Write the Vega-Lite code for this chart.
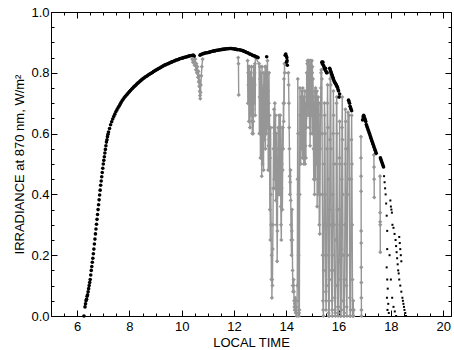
{
"$schema": "https://vega.github.io/schema/vega-lite/v6.json",
"width": 400, "height": 304,
"autosize": {"type": "none"},
"padding": {"left": 51, "top": 12, "right": 3, "bottom": 34},
"background": "white",
"config": {
  "view": {"stroke": "black", "strokeWidth": 1},
  "axis": {"grid": false, "domain": false, "tickColor": "black", "tickWidth": 1, "labelFont": "Liberation Sans", "labelFontSize": 13, "labelColor": "black", "titleFont": "Liberation Sans", "titleFontSize": 13, "titleFontWeight": "normal", "titleColor": "black"}
},
"datasets": {
"clear": [
{"t":6.26,"v":0.0},{"t":6.30,"v":0.03},{"t":6.32,"v":0.04},{"t":6.34,"v":0.05},{"t":6.36,"v":0.055},{"t":6.38,"v":0.065},{"t":6.40,"v":0.07},{"t":6.42,"v":0.08},{"t":6.44,"v":0.09},{"t":6.46,"v":0.10},{"t":6.48,"v":0.11},{"t":6.50,"v":0.12},{"t":6.52,"v":0.135},{"t":6.54,"v":0.15},{"t":6.56,"v":0.163},{"t":6.58,"v":0.177},{"t":6.60,"v":0.19},{"t":6.62,"v":0.205},{"t":6.64,"v":0.22},{"t":6.66,"v":0.237},{"t":6.68,"v":0.253},{"t":6.70,"v":0.27},{"t":6.72,"v":0.286},{"t":6.74,"v":0.302},{"t":6.76,"v":0.318},{"t":6.78,"v":0.334},{"t":6.80,"v":0.35},{"t":6.82,"v":0.366},{"t":6.84,"v":0.382},{"t":6.86,"v":0.398},{"t":6.88,"v":0.414},{"t":6.90,"v":0.43},{"t":6.92,"v":0.444},{"t":6.94,"v":0.458},{"t":6.96,"v":0.472},{"t":6.98,"v":0.486},{"t":7.00,"v":0.50},{"t":7.02,"v":0.512},{"t":7.04,"v":0.524},{"t":7.06,"v":0.536},{"t":7.08,"v":0.548},{"t":7.10,"v":0.56},{"t":7.12,"v":0.572},{"t":7.14,"v":0.58},{"t":7.16,"v":0.59},{"t":7.18,"v":0.598},{"t":7.20,"v":0.605},
{"t":7.24,"v":0.617},{"t":7.28,"v":0.629},{"t":7.32,"v":0.639},{"t":7.36,"v":0.648},{"t":7.40,"v":0.656},{"t":7.44,"v":0.664},{"t":7.48,"v":0.672},{"t":7.52,"v":0.678},{"t":7.56,"v":0.684},{"t":7.60,"v":0.690},{"t":7.64,"v":0.696},{"t":7.68,"v":0.702},{"t":7.72,"v":0.708},{"t":7.76,"v":0.713},{"t":7.80,"v":0.718},{"t":7.84,"v":0.722},{"t":7.88,"v":0.726},{"t":7.92,"v":0.730},{"t":7.96,"v":0.734},{"t":8.00,"v":0.738},{"t":8.04,"v":0.742},{"t":8.08,"v":0.746},{"t":8.12,"v":0.749},{"t":8.16,"v":0.753},{"t":8.20,"v":0.756},{"t":8.24,"v":0.759},{"t":8.28,"v":0.763},{"t":8.32,"v":0.766},{"t":8.36,"v":0.769},{"t":8.40,"v":0.772},{"t":8.44,"v":0.775},{"t":8.48,"v":0.778},{"t":8.52,"v":0.781},{"t":8.56,"v":0.783},{"t":8.60,"v":0.786},{"t":8.64,"v":0.788},{"t":8.68,"v":0.790},{"t":8.72,"v":0.793},{"t":8.76,"v":0.795},{"t":8.80,"v":0.797},{"t":8.84,"v":0.799},{"t":8.88,"v":0.801},{"t":8.92,"v":0.804},{"t":8.96,"v":0.806},{"t":9.00,"v":0.808},{"t":9.04,"v":0.810},{"t":9.08,"v":0.812},{"t":9.12,"v":0.814},{"t":9.16,"v":0.816},{"t":9.20,"v":0.818},{"t":9.24,"v":0.820},{"t":9.28,"v":0.822},{"t":9.32,"v":0.824},{"t":9.36,"v":0.826},{"t":9.40,"v":0.827},{"t":9.44,"v":0.829},{"t":9.48,"v":0.830},{"t":9.52,"v":0.832},{"t":9.56,"v":0.833},{"t":9.60,"v":0.835},{"t":9.64,"v":0.836},{"t":9.68,"v":0.838},{"t":9.72,"v":0.839},{"t":9.76,"v":0.841},{"t":9.80,"v":0.842},{"t":9.84,"v":0.843},{"t":9.88,"v":0.844},{"t":9.92,"v":0.846},{"t":9.96,"v":0.847},{"t":10.00,"v":0.848},{"t":10.04,"v":0.849},{"t":10.08,"v":0.850},{"t":10.12,"v":0.851},{"t":10.16,"v":0.852},{"t":10.20,"v":0.853},{"t":10.24,"v":0.854},{"t":10.28,"v":0.855},{"t":10.32,"v":0.856},{"t":10.36,"v":0.857},{"t":10.40,"v":0.857},{"t":10.44,"v":0.858},{"t":10.48,"v":0.855},
{"t":10.70,"v":0.858},{"t":10.74,"v":0.860},{"t":10.78,"v":0.862},{"t":10.82,"v":0.863},{"t":10.86,"v":0.864},{"t":10.90,"v":0.865},{"t":10.94,"v":0.866},{"t":10.98,"v":0.866},{"t":11.02,"v":0.867},{"t":11.06,"v":0.868},{"t":11.10,"v":0.869},{"t":11.14,"v":0.870},{"t":11.18,"v":0.871},{"t":11.22,"v":0.872},{"t":11.26,"v":0.872},{"t":11.30,"v":0.873},{"t":11.34,"v":0.874},{"t":11.38,"v":0.874},{"t":11.42,"v":0.875},{"t":11.46,"v":0.876},{"t":11.50,"v":0.876},{"t":11.54,"v":0.877},{"t":11.58,"v":0.877},{"t":11.62,"v":0.878},{"t":11.66,"v":0.878},{"t":11.70,"v":0.879},{"t":11.74,"v":0.879},{"t":11.78,"v":0.879},{"t":11.82,"v":0.880},{"t":11.86,"v":0.880},{"t":11.90,"v":0.880},{"t":11.94,"v":0.879},{"t":11.98,"v":0.879},{"t":12.02,"v":0.878},{"t":12.06,"v":0.878},{"t":12.10,"v":0.877},{"t":12.14,"v":0.876},{"t":12.20,"v":0.876},{"t":12.24,"v":0.875},{"t":12.28,"v":0.874},{"t":12.32,"v":0.873},{"t":12.36,"v":0.872},{"t":12.40,"v":0.870},{"t":12.44,"v":0.869},{"t":12.48,"v":0.867},{"t":12.52,"v":0.866},{"t":12.56,"v":0.864},{"t":12.60,"v":0.862},{"t":12.64,"v":0.861},{"t":12.68,"v":0.859},{"t":12.72,"v":0.857},{"t":12.76,"v":0.856},{"t":12.80,"v":0.855},{"t":12.84,"v":0.853},{"t":12.88,"v":0.852},{"t":12.92,"v":0.850},
{"t":13.25,"v":0.853},
{"t":13.96,"v":0.858},{"t":13.98,"v":0.862},{"t":14.00,"v":0.855},{"t":14.01,"v":0.835},{"t":14.02,"v":0.85},{"t":14.03,"v":0.84},{"t":14.04,"v":0.825},
{"t":15.36,"v":0.835},{"t":15.38,"v":0.83},{"t":15.40,"v":0.835},{"t":15.42,"v":0.825},{"t":15.44,"v":0.82},{"t":15.46,"v":0.815},{"t":15.48,"v":0.81},{"t":15.50,"v":0.815},{"t":15.52,"v":0.805},{"t":15.54,"v":0.80},{"t":15.56,"v":0.80},{"t":15.66,"v":0.815},{"t":15.68,"v":0.81},{"t":15.70,"v":0.805},{"t":15.72,"v":0.80},{"t":15.74,"v":0.795},{"t":15.76,"v":0.79},{"t":15.78,"v":0.785},{"t":15.80,"v":0.78},{"t":15.82,"v":0.775},{"t":15.84,"v":0.77},{"t":15.86,"v":0.768},{"t":15.88,"v":0.765},{"t":15.90,"v":0.762},{"t":15.92,"v":0.758},{"t":15.94,"v":0.755},{"t":15.96,"v":0.752},{"t":15.98,"v":0.745},{"t":16.00,"v":0.74},{"t":16.02,"v":0.72},{"t":16.04,"v":0.73},
{"t":16.38,"v":0.71},{"t":16.40,"v":0.705},{"t":16.42,"v":0.70},{"t":16.44,"v":0.69},{"t":16.46,"v":0.685},{"t":16.48,"v":0.68},{"t":16.50,"v":0.675},
{"t":16.92,"v":0.645},{"t":16.94,"v":0.655},{"t":16.96,"v":0.66},{"t":16.98,"v":0.655},{"t":17.00,"v":0.65},{"t":17.02,"v":0.645},{"t":17.04,"v":0.64},{"t":17.06,"v":0.63},{"t":17.08,"v":0.625},{"t":17.10,"v":0.62},{"t":17.12,"v":0.615},{"t":17.14,"v":0.61},{"t":17.16,"v":0.605},{"t":17.18,"v":0.60},{"t":17.20,"v":0.595},{"t":17.22,"v":0.59},{"t":17.24,"v":0.585},{"t":17.26,"v":0.58},{"t":17.28,"v":0.575},{"t":17.30,"v":0.57},{"t":17.32,"v":0.565},{"t":17.34,"v":0.56},{"t":17.36,"v":0.555},{"t":17.38,"v":0.55},{"t":17.40,"v":0.545},{"t":17.42,"v":0.54},{"t":17.44,"v":0.535},
{"t":17.60,"v":0.52},{"t":17.62,"v":0.515},{"t":17.64,"v":0.51},{"t":17.66,"v":0.505},{"t":17.68,"v":0.50},{"t":17.70,"v":0.495},{"t":17.72,"v":0.49},
{"t":17.74,"v":0.46},{"t":17.76,"v":0.44},{"t":17.78,"v":0.42},{"t":17.80,"v":0.40},{"t":17.82,"v":0.37},{"t":17.84,"v":0.33},{"t":17.86,"v":0.28},{"t":17.86,"v":0.22},{"t":17.84,"v":0.16},{"t":17.86,"v":0.12},{"t":17.88,"v":0.09},{"t":17.85,"v":0.06},{"t":17.90,"v":0.04},{"t":17.87,"v":0.02},{"t":17.92,"v":0.01},
{"t":17.98,"v":0.38},{"t":18.00,"v":0.36},{"t":18.02,"v":0.35},{"t":18.04,"v":0.34},{"t":18.06,"v":0.30},{"t":18.10,"v":0.29},{"t":18.14,"v":0.27},{"t":18.18,"v":0.25},{"t":18.20,"v":0.23},{"t":18.22,"v":0.21},{"t":18.24,"v":0.19},{"t":18.26,"v":0.17},{"t":18.28,"v":0.15},{"t":18.30,"v":0.14},{"t":18.32,"v":0.12},{"t":18.36,"v":0.10},{"t":18.40,"v":0.08},{"t":18.44,"v":0.06},{"t":18.46,"v":0.05},{"t":18.48,"v":0.04},{"t":18.50,"v":0.03},{"t":18.52,"v":0.02},{"t":18.55,"v":0.01},{"t":18.58,"v":0.0},
{"t":17.95,"v":0.20},{"t":18.00,"v":0.12},{"t":18.05,"v":0.06},{"t":18.10,"v":0.03},{"t":18.15,"v":0.015},{"t":18.20,"v":0.0},{"t":18.32,"v":0.26},{"t":18.34,"v":0.24},{"t":18.36,"v":0.22},{"t":18.38,"v":0.20},{"t":18.40,"v":0.18}
],
"cloudy": [
{"seg":1,"t":10.40,"v":0.845},{"seg":1,"t":10.43,"v":0.835},{"seg":1,"t":10.46,"v":0.84},{"seg":1,"t":10.49,"v":0.825},{"seg":1,"t":10.52,"v":0.845},{"seg":1,"t":10.54,"v":0.81},{"seg":1,"t":10.56,"v":0.83},{"seg":1,"t":10.58,"v":0.80},{"seg":1,"t":10.60,"v":0.82},{"seg":1,"t":10.62,"v":0.785},{"seg":1,"t":10.64,"v":0.805},{"seg":1,"t":10.65,"v":0.77},{"seg":1,"t":10.66,"v":0.79},{"seg":1,"t":10.67,"v":0.755},{"seg":1,"t":10.68,"v":0.775},{"seg":1,"t":10.69,"v":0.74},{"seg":1,"t":10.70,"v":0.725},{"seg":1,"t":10.71,"v":0.715},{"seg":1,"t":10.72,"v":0.735},{"seg":1,"t":10.73,"v":0.76},{"seg":1,"t":10.75,"v":0.79},{"seg":1,"t":10.77,"v":0.82},{"seg":1,"t":10.80,"v":0.845},
{"seg":2,"t":12.16,"v":0.85},{"seg":2,"t":12.17,"v":0.83},{"seg":2,"t":12.18,"v":0.727},
{"seg":3,"t":12.52,"v":0.84},{"seg":3,"t":12.54,"v":0.80},{"seg":3,"t":12.56,"v":0.82},{"seg":3,"t":12.58,"v":0.74},{"seg":3,"t":12.60,"v":0.78},{"seg":3,"t":12.62,"v":0.70},{"seg":3,"t":12.64,"v":0.76},{"seg":3,"t":12.66,"v":0.66},{"seg":3,"t":12.68,"v":0.72},{"seg":3,"t":12.70,"v":0.60},{"seg":3,"t":12.72,"v":0.68},{"seg":3,"t":12.74,"v":0.64},{"seg":3,"t":12.76,"v":0.74},{"seg":3,"t":12.78,"v":0.80},{"seg":3,"t":12.80,"v":0.83},{"seg":3,"t":12.82,"v":0.85},
{"seg":3,"t":12.53,"v":0.70},{"seg":3,"t":12.55,"v":0.76},{"seg":3,"t":12.57,"v":0.64},{"seg":3,"t":12.59,"v":0.82},{"seg":3,"t":12.61,"v":0.62},{"seg":3,"t":12.63,"v":0.80},{"seg":3,"t":12.65,"v":0.72},{"seg":3,"t":12.67,"v":0.82},{"seg":3,"t":12.69,"v":0.64},{"seg":3,"t":12.71,"v":0.78},{"seg":3,"t":12.73,"v":0.60},{"seg":3,"t":12.75,"v":0.82},{"seg":3,"t":12.77,"v":0.70},{"seg":3,"t":12.79,"v":0.76},{"seg":3,"t":12.81,"v":0.66},
{"seg":3,"t":12.96,"v":0.83},{"seg":3,"t":12.98,"v":0.72},{"seg":3,"t":13.00,"v":0.78},{"seg":3,"t":13.02,"v":0.60},{"seg":3,"t":13.04,"v":0.70},{"seg":3,"t":13.06,"v":0.46},{"seg":3,"t":13.08,"v":0.62},{"seg":3,"t":13.10,"v":0.75},{"seg":3,"t":13.12,"v":0.68},{"seg":3,"t":13.14,"v":0.80},{"seg":3,"t":13.16,"v":0.66},{"seg":3,"t":13.18,"v":0.74},{"seg":3,"t":13.20,"v":0.55},{"seg":3,"t":13.22,"v":0.82},{"seg":3,"t":13.27,"v":0.80},{"seg":3,"t":13.29,"v":0.62},{"seg":3,"t":13.31,"v":0.48},{"seg":3,"t":13.33,"v":0.70},{"seg":3,"t":13.35,"v":0.58},{"seg":3,"t":13.37,"v":0.35},{"seg":3,"t":13.39,"v":0.25},{"seg":3,"t":13.41,"v":0.40},{"seg":3,"t":13.43,"v":0.12},{"seg":3,"t":13.45,"v":0.06},{"seg":3,"t":13.47,"v":0.10},{"seg":3,"t":13.49,"v":0.30},{"seg":3,"t":13.51,"v":0.55},{"seg":3,"t":13.53,"v":0.68},{"seg":3,"t":13.55,"v":0.60},{"seg":3,"t":13.57,"v":0.42},{"seg":3,"t":13.59,"v":0.66},{"seg":3,"t":13.61,"v":0.50},{"seg":3,"t":13.63,"v":0.30},{"seg":3,"t":13.65,"v":0.18},{"seg":3,"t":13.67,"v":0.45},{"seg":3,"t":13.69,"v":0.62},{"seg":3,"t":13.71,"v":0.55},{"seg":3,"t":13.73,"v":0.40},{"seg":3,"t":13.75,"v":0.58},{"seg":3,"t":13.77,"v":0.66},{"seg":3,"t":13.79,"v":0.36},{"seg":3,"t":13.81,"v":0.25},{"seg":3,"t":13.83,"v":0.50},{"seg":3,"t":13.85,"v":0.35},{"seg":3,"t":13.87,"v":0.62},{"seg":3,"t":13.89,"v":0.70},{"seg":3,"t":13.91,"v":0.78},{"seg":3,"t":13.93,"v":0.83},
{"seg":3,"t":12.97,"v":0.60},{"seg":3,"t":12.99,"v":0.82},{"seg":3,"t":13.01,"v":0.52},{"seg":3,"t":13.03,"v":0.80},{"seg":3,"t":13.05,"v":0.72},{"seg":3,"t":13.07,"v":0.82},{"seg":3,"t":13.09,"v":0.50},{"seg":3,"t":13.11,"v":0.60},{"seg":3,"t":13.13,"v":0.48},{"seg":3,"t":13.15,"v":0.76},{"seg":3,"t":13.17,"v":0.58},{"seg":3,"t":13.19,"v":0.82},{"seg":3,"t":13.21,"v":0.66},{"seg":3,"t":13.23,"v":0.74},{"seg":3,"t":13.24,"v":0.60},{"seg":3,"t":13.26,"v":0.70},{"seg":3,"t":13.28,"v":0.84},{"seg":3,"t":13.30,"v":0.74},{"seg":3,"t":13.32,"v":0.56},{"seg":3,"t":13.34,"v":0.80},{"seg":3,"t":13.36,"v":0.66},{"seg":3,"t":13.38,"v":0.52},{"seg":3,"t":13.40,"v":0.62},{"seg":3,"t":13.42,"v":0.30},{"seg":3,"t":13.44,"v":0.20},{"seg":3,"t":13.46,"v":0.12},{"seg":3,"t":13.48,"v":0.22},{"seg":3,"t":13.50,"v":0.42},{"seg":3,"t":13.52,"v":0.62},{"seg":3,"t":13.54,"v":0.45},{"seg":3,"t":13.56,"v":0.70},{"seg":3,"t":13.58,"v":0.52},{"seg":3,"t":13.60,"v":0.38},{"seg":3,"t":13.62,"v":0.60},{"seg":3,"t":13.64,"v":0.42},{"seg":3,"t":13.66,"v":0.28},{"seg":3,"t":13.68,"v":0.55},{"seg":3,"t":13.70,"v":0.40},{"seg":3,"t":13.72,"v":0.66},{"seg":3,"t":13.74,"v":0.50},{"seg":3,"t":13.76,"v":0.45},{"seg":3,"t":13.78,"v":0.55},{"seg":3,"t":13.80,"v":0.30},{"seg":3,"t":13.82,"v":0.42},{"seg":3,"t":13.84,"v":0.62},{"seg":3,"t":13.86,"v":0.48},{"seg":3,"t":13.88,"v":0.55},{"seg":3,"t":13.90,"v":0.64},{"seg":3,"t":13.92,"v":0.70},{"seg":3,"t":13.94,"v":0.80},
{"seg":3,"t":14.08,"v":0.80},{"seg":3,"t":14.10,"v":0.70},{"seg":3,"t":14.12,"v":0.55},{"seg":3,"t":14.14,"v":0.40},{"seg":3,"t":14.16,"v":0.48},{"seg":3,"t":14.18,"v":0.30},{"seg":3,"t":14.20,"v":0.20},{"seg":3,"t":14.22,"v":0.35},{"seg":3,"t":14.24,"v":0.15},{"seg":3,"t":14.26,"v":0.08},{"seg":3,"t":14.28,"v":0.12},{"seg":3,"t":14.30,"v":0.05},{"seg":3,"t":14.32,"v":0.02},{"seg":3,"t":14.34,"v":0.06},{"seg":3,"t":14.36,"v":0.01},{"seg":3,"t":14.38,"v":0.03},{"seg":3,"t":14.40,"v":0.0},{"seg":3,"t":14.42,"v":0.10},{"seg":3,"t":14.44,"v":0.78},{"seg":3,"t":14.46,"v":0.40},{"seg":3,"t":14.48,"v":0.0},{"seg":3,"t":14.50,"v":0.02},{"seg":3,"t":14.52,"v":0.75},
{"seg":3,"t":14.09,"v":0.76},{"seg":3,"t":14.11,"v":0.62},{"seg":3,"t":14.13,"v":0.46},{"seg":3,"t":14.15,"v":0.44},{"seg":3,"t":14.17,"v":0.38},{"seg":3,"t":14.19,"v":0.25},{"seg":3,"t":14.21,"v":0.28},{"seg":3,"t":14.23,"v":0.25},{"seg":3,"t":14.25,"v":0.10},{"seg":3,"t":14.27,"v":0.10},{"seg":3,"t":14.29,"v":0.08},{"seg":3,"t":14.31,"v":0.03},{"seg":3,"t":14.33,"v":0.04},{"seg":3,"t":14.35,"v":0.03},{"seg":3,"t":14.37,"v":0.02},{"seg":3,"t":14.39,"v":0.01},{"seg":3,"t":14.41,"v":0.05},{"seg":3,"t":14.43,"v":0.45},{"seg":3,"t":14.45,"v":0.60},{"seg":3,"t":14.47,"v":0.20},{"seg":3,"t":14.49,"v":0.01},{"seg":3,"t":14.51,"v":0.40},
{"seg":3,"t":14.54,"v":0.60},{"seg":3,"t":14.56,"v":0.72},{"seg":3,"t":14.58,"v":0.55},{"seg":3,"t":14.60,"v":0.68},{"seg":3,"t":14.62,"v":0.52},{"seg":3,"t":14.64,"v":0.63},{"seg":3,"t":14.66,"v":0.55},{"seg":3,"t":14.68,"v":0.72},{"seg":3,"t":14.70,"v":0.60},{"seg":3,"t":14.72,"v":0.50},{"seg":3,"t":14.74,"v":0.65},{"seg":3,"t":14.76,"v":0.70},{"seg":3,"t":14.78,"v":0.80},{"seg":3,"t":14.80,"v":0.83},{"seg":3,"t":14.82,"v":0.78},{"seg":3,"t":14.84,"v":0.84},{"seg":3,"t":14.86,"v":0.80},{"seg":3,"t":14.88,"v":0.70},{"seg":3,"t":14.90,"v":0.82},{"seg":3,"t":14.92,"v":0.76},{"seg":3,"t":14.94,"v":0.60},{"seg":3,"t":14.96,"v":0.80},{"seg":3,"t":14.98,"v":0.84},{"seg":3,"t":15.00,"v":0.82},{"seg":3,"t":15.02,"v":0.78},{"seg":3,"t":15.04,"v":0.55},{"seg":3,"t":15.06,"v":0.70},{"seg":3,"t":15.08,"v":0.40},{"seg":3,"t":15.10,"v":0.62},{"seg":3,"t":15.12,"v":0.75},{"seg":3,"t":15.14,"v":0.50},{"seg":3,"t":15.16,"v":0.68},{"seg":3,"t":15.18,"v":0.36},{"seg":3,"t":15.20,"v":0.60},{"seg":3,"t":15.22,"v":0.72},{"seg":3,"t":15.24,"v":0.45},{"seg":3,"t":15.26,"v":0.30},{"seg":3,"t":15.28,"v":0.27},{"seg":3,"t":15.30,"v":0.55},{"seg":3,"t":15.32,"v":0.75},{"seg":3,"t":15.34,"v":0.81},
{"seg":3,"t":14.53,"v":0.66},{"seg":3,"t":14.55,"v":0.50},{"seg":3,"t":14.57,"v":0.64},{"seg":3,"t":14.59,"v":0.74},{"seg":3,"t":14.61,"v":0.58},{"seg":3,"t":14.63,"v":0.75},{"seg":3,"t":14.65,"v":0.62},{"seg":3,"t":14.67,"v":0.50},{"seg":3,"t":14.69,"v":0.66},{"seg":3,"t":14.71,"v":0.74},{"seg":3,"t":14.73,"v":0.56},{"seg":3,"t":14.75,"v":0.52},{"seg":3,"t":14.77,"v":0.62},{"seg":3,"t":14.79,"v":0.70},{"seg":3,"t":14.81,"v":0.84},{"seg":3,"t":14.83,"v":0.66},{"seg":3,"t":14.85,"v":0.74},{"seg":3,"t":14.87,"v":0.84},{"seg":3,"t":14.89,"v":0.62},{"seg":3,"t":14.91,"v":0.56},{"seg":3,"t":14.93,"v":0.84},{"seg":3,"t":14.95,"v":0.72},{"seg":3,"t":14.97,"v":0.66},{"seg":3,"t":14.99,"v":0.80},{"seg":3,"t":15.01,"v":0.60},{"seg":3,"t":15.03,"v":0.72},{"seg":3,"t":15.05,"v":0.45},{"seg":3,"t":15.07,"v":0.62},{"seg":3,"t":15.09,"v":0.74},{"seg":3,"t":15.11,"v":0.45},{"seg":3,"t":15.13,"v":0.66},{"seg":3,"t":15.15,"v":0.55},{"seg":3,"t":15.17,"v":0.74},{"seg":3,"t":15.19,"v":0.50},{"seg":3,"t":15.21,"v":0.40},{"seg":3,"t":15.23,"v":0.60},{"seg":3,"t":15.25,"v":0.70},{"seg":3,"t":15.27,"v":0.50},{"seg":3,"t":15.29,"v":0.40},{"seg":3,"t":15.31,"v":0.66},{"seg":3,"t":15.33,"v":0.80},
{"seg":3,"t":15.36,"v":0.78},{"seg":3,"t":15.38,"v":0.40},{"seg":3,"t":15.40,"v":0.05},{"seg":3,"t":15.42,"v":0.0},{"seg":3,"t":15.44,"v":0.30},{"seg":3,"t":15.46,"v":0.70},{"seg":3,"t":15.48,"v":0.60},{"seg":3,"t":15.50,"v":0.20},{"seg":3,"t":15.52,"v":0.02},{"seg":3,"t":15.54,"v":0.10},{"seg":3,"t":15.56,"v":0.55},{"seg":3,"t":15.58,"v":0.76},{"seg":3,"t":15.60,"v":0.45},{"seg":3,"t":15.62,"v":0.01},{"seg":3,"t":15.64,"v":0.0},{"seg":3,"t":15.66,"v":0.35},{"seg":3,"t":15.68,"v":0.78},
{"seg":3,"t":15.70,"v":0.76},{"seg":3,"t":15.72,"v":0.30},{"seg":3,"t":15.74,"v":0.05},{"seg":3,"t":15.76,"v":0.0},{"seg":3,"t":15.78,"v":0.40},{"seg":3,"t":15.80,"v":0.74},{"seg":3,"t":15.82,"v":0.50},{"seg":3,"t":15.84,"v":0.15},{"seg":3,"t":15.86,"v":0.02},{"seg":3,"t":15.88,"v":0.0},{"seg":3,"t":15.90,"v":0.25},{"seg":3,"t":15.92,"v":0.70},{"seg":3,"t":15.94,"v":0.60},{"seg":3,"t":15.96,"v":0.10},{"seg":3,"t":15.98,"v":0.0},{"seg":3,"t":16.00,"v":0.03},{"seg":3,"t":16.02,"v":0.35},{"seg":3,"t":16.04,"v":0.64},{"seg":3,"t":16.06,"v":0.30},{"seg":3,"t":16.08,"v":0.0},{"seg":3,"t":16.10,"v":0.02},{"seg":3,"t":16.12,"v":0.45},{"seg":3,"t":16.14,"v":0.72},{"seg":3,"t":16.16,"v":0.40},{"seg":3,"t":16.18,"v":0.05},{"seg":3,"t":16.20,"v":0.0},{"seg":3,"t":16.22,"v":0.01},{"seg":3,"t":16.24,"v":0.30},{"seg":3,"t":16.26,"v":0.68},{"seg":3,"t":16.28,"v":0.55},{"seg":3,"t":16.30,"v":0.10},{"seg":3,"t":16.32,"v":0.0},{"seg":3,"t":16.34,"v":0.40},{"seg":3,"t":16.36,"v":0.67},{"seg":3,"t":16.40,"v":0.66},{"seg":3,"t":16.42,"v":0.20},{"seg":3,"t":16.44,"v":0.0},{"seg":3,"t":16.46,"v":0.02},{"seg":3,"t":16.48,"v":0.45},{"seg":3,"t":16.50,"v":0.66},{"seg":3,"t":16.52,"v":0.30},{"seg":3,"t":16.54,"v":0.0},{"seg":3,"t":16.56,"v":0.05},{"seg":3,"t":16.58,"v":0.02},
{"seg":3,"t":15.37,"v":0.60},{"seg":3,"t":15.39,"v":0.20},{"seg":3,"t":15.41,"v":0.02},{"seg":3,"t":15.43,"v":0.15},{"seg":3,"t":15.45,"v":0.50},{"seg":3,"t":15.47,"v":0.66},{"seg":3,"t":15.49,"v":0.40},{"seg":3,"t":15.51,"v":0.08},{"seg":3,"t":15.53,"v":0.05},{"seg":3,"t":15.55,"v":0.30},{"seg":3,"t":15.57,"v":0.70},{"seg":3,"t":15.59,"v":0.62},{"seg":3,"t":15.61,"v":0.20},{"seg":3,"t":15.63,"v":0.0},{"seg":3,"t":15.65,"v":0.12},{"seg":3,"t":15.67,"v":0.58},{"seg":3,"t":15.69,"v":0.80},{"seg":3,"t":15.71,"v":0.55},{"seg":3,"t":15.73,"v":0.15},{"seg":3,"t":15.75,"v":0.02},{"seg":3,"t":15.77,"v":0.20},{"seg":3,"t":15.79,"v":0.60},{"seg":3,"t":15.81,"v":0.66},{"seg":3,"t":15.83,"v":0.30},{"seg":3,"t":15.85,"v":0.06},{"seg":3,"t":15.87,"v":0.01},{"seg":3,"t":15.89,"v":0.10},{"seg":3,"t":15.91,"v":0.50},{"seg":3,"t":15.93,"v":0.72},{"seg":3,"t":15.95,"v":0.35},{"seg":3,"t":15.97,"v":0.03},{"seg":3,"t":15.99,"v":0.01},{"seg":3,"t":16.01,"v":0.18},{"seg":3,"t":16.03,"v":0.52},{"seg":3,"t":16.05,"v":0.50},{"seg":3,"t":16.07,"v":0.12},{"seg":3,"t":16.09,"v":0.0},{"seg":3,"t":16.11,"v":0.22},{"seg":3,"t":16.13,"v":0.62},{"seg":3,"t":16.15,"v":0.58},{"seg":3,"t":16.17,"v":0.20},{"seg":3,"t":16.19,"v":0.02},{"seg":3,"t":16.21,"v":0.0},{"seg":3,"t":16.23,"v":0.12},{"seg":3,"t":16.25,"v":0.50},{"seg":3,"t":16.27,"v":0.64},{"seg":3,"t":16.29,"v":0.30},{"seg":3,"t":16.31,"v":0.03},{"seg":3,"t":16.33,"v":0.20},{"seg":3,"t":16.35,"v":0.55},{"seg":3,"t":16.41,"v":0.45},{"seg":3,"t":16.43,"v":0.06},{"seg":3,"t":16.45,"v":0.0},{"seg":3,"t":16.47,"v":0.22},{"seg":3,"t":16.49,"v":0.58},{"seg":3,"t":16.51,"v":0.50},{"seg":3,"t":16.53,"v":0.12},{"seg":3,"t":16.55,"v":0.02},{"seg":3,"t":16.57,"v":0.0},
{"seg":4,"t":16.855,"v":0.59},{"seg":4,"t":16.857,"v":0.52},{"seg":4,"t":16.86,"v":0.46},{"seg":4,"t":16.862,"v":0.41},{"seg":4,"t":16.864,"v":0.28},{"seg":4,"t":16.866,"v":0.24},{"seg":4,"t":16.868,"v":0.16},{"seg":4,"t":16.87,"v":0.11},{"seg":4,"t":16.872,"v":0.06},{"seg":4,"t":16.874,"v":0.02},{"seg":4,"t":16.876,"v":0.0},
{"seg":5,"t":17.35,"v":0.53},{"seg":5,"t":17.355,"v":0.49},{"seg":5,"t":17.36,"v":0.45},{"seg":5,"t":17.365,"v":0.39},
{"seg":6,"t":17.585,"v":0.46},{"seg":6,"t":17.59,"v":0.34},{"seg":6,"t":17.592,"v":0.31},{"seg":6,"t":17.594,"v":0.30},{"seg":6,"t":17.596,"v":0.21}
]
},
"layer": [
{
  "data": {"name": "cloudy"},
  "mark": {"type": "line", "color": "#969696", "strokeWidth": 1.4},
  "encoding": {
    "x": {"field": "t", "type": "quantitative", "scale": {"domain": [5, 20.3], "nice": false, "zero": false},
      "axis": {"orient": "bottom", "values": [6,8,10,12,14,16,18,20], "tickSize": 6, "offset": -6, "labelPadding": 4, "title": "LOCAL TIME", "titlePadding": 3}},
    "y": {"field": "v", "type": "quantitative", "scale": {"domain": [0, 1], "nice": false, "zero": false},
      "axis": {"orient": "left", "values": [0,0.2,0.4,0.6,0.8,1.0], "format": ".1f", "tickSize": 6, "offset": -6, "labelPadding": 2, "title": "IRRADIANCE at 870 nm, W/m²", "titlePadding": 4}},
    "detail": {"field": "seg", "type": "nominal"},
    "order": {"field": "t", "type": "quantitative"}
  }
},
{
  "data": {"name": "cloudy"},
  "mark": {"type": "point", "shape": "diamond", "filled": true, "color": "#969696", "size": 18, "opacity": 1},
  "encoding": {
    "x": {"field": "t", "type": "quantitative", "scale": {"domain": [5, 20.3], "nice": false, "zero": false},
      "axis": {"orient": "bottom", "values": [5,5.5,6,6.5,7,7.5,8,8.5,9,9.5,10,10.5,11,11.5,12,12.5,13,13.5,14,14.5,15,15.5,16,16.5,17,17.5,18,18.5,19,19.5,20], "tickSize": 3, "offset": -3, "labels": false, "title": null}},
    "y": {"field": "v", "type": "quantitative", "scale": {"domain": [0, 1], "nice": false, "zero": false},
      "axis": {"orient": "left", "values": [0,0.05,0.1,0.15,0.2,0.25,0.3,0.35,0.4,0.45,0.5,0.55,0.6,0.65,0.7,0.75,0.8,0.85,0.9,0.95,1.0], "tickSize": 3, "offset": -3, "labels": false, "title": null}}
  }
},
{
  "data": {"name": "clear"},
  "transform": [{"filter": "datum.t < 17.73"}],
  "mark": {"type": "point", "shape": "circle", "filled": true, "color": "black", "size": 13, "opacity": 1},
  "encoding": {
    "x": {"field": "t", "type": "quantitative", "scale": {"domain": [5, 20.3], "nice": false, "zero": false},
      "axis": {"orient": "top", "values": [6,8,10,12,14,16,18,20], "tickSize": 6, "offset": -6, "labels": false, "title": null}},
    "y": {"field": "v", "type": "quantitative", "scale": {"domain": [0, 1], "nice": false, "zero": false},
      "axis": {"orient": "right", "values": [0,0.2,0.4,0.6,0.8,1.0], "tickSize": 6, "offset": -6, "labels": false, "title": null}}
  }
},
{
  "data": {"name": "clear"},
  "transform": [{"filter": "datum.t >= 17.73"}],
  "mark": {"type": "point", "shape": "square", "filled": true, "color": "black", "size": 4, "opacity": 1},
  "encoding": {
    "x": {"field": "t", "type": "quantitative", "scale": {"domain": [5, 20.3], "nice": false, "zero": false},
      "axis": {"orient": "top", "values": [5,5.5,6,6.5,7,7.5,8,8.5,9,9.5,10,10.5,11,11.5,12,12.5,13,13.5,14,14.5,15,15.5,16,16.5,17,17.5,18,18.5,19,19.5,20], "tickSize": 3, "offset": -3, "labels": false, "title": null}},
    "y": {"field": "v", "type": "quantitative", "scale": {"domain": [0, 1], "nice": false, "zero": false},
      "axis": {"orient": "right", "values": [0,0.05,0.1,0.15,0.2,0.25,0.3,0.35,0.4,0.45,0.5,0.55,0.6,0.65,0.7,0.75,0.8,0.85,0.9,0.95,1.0], "tickSize": 3, "offset": -3, "labels": false, "title": null}}
  }
}
],
"resolve": {"axis": {"x": "independent", "y": "independent"}}
}
